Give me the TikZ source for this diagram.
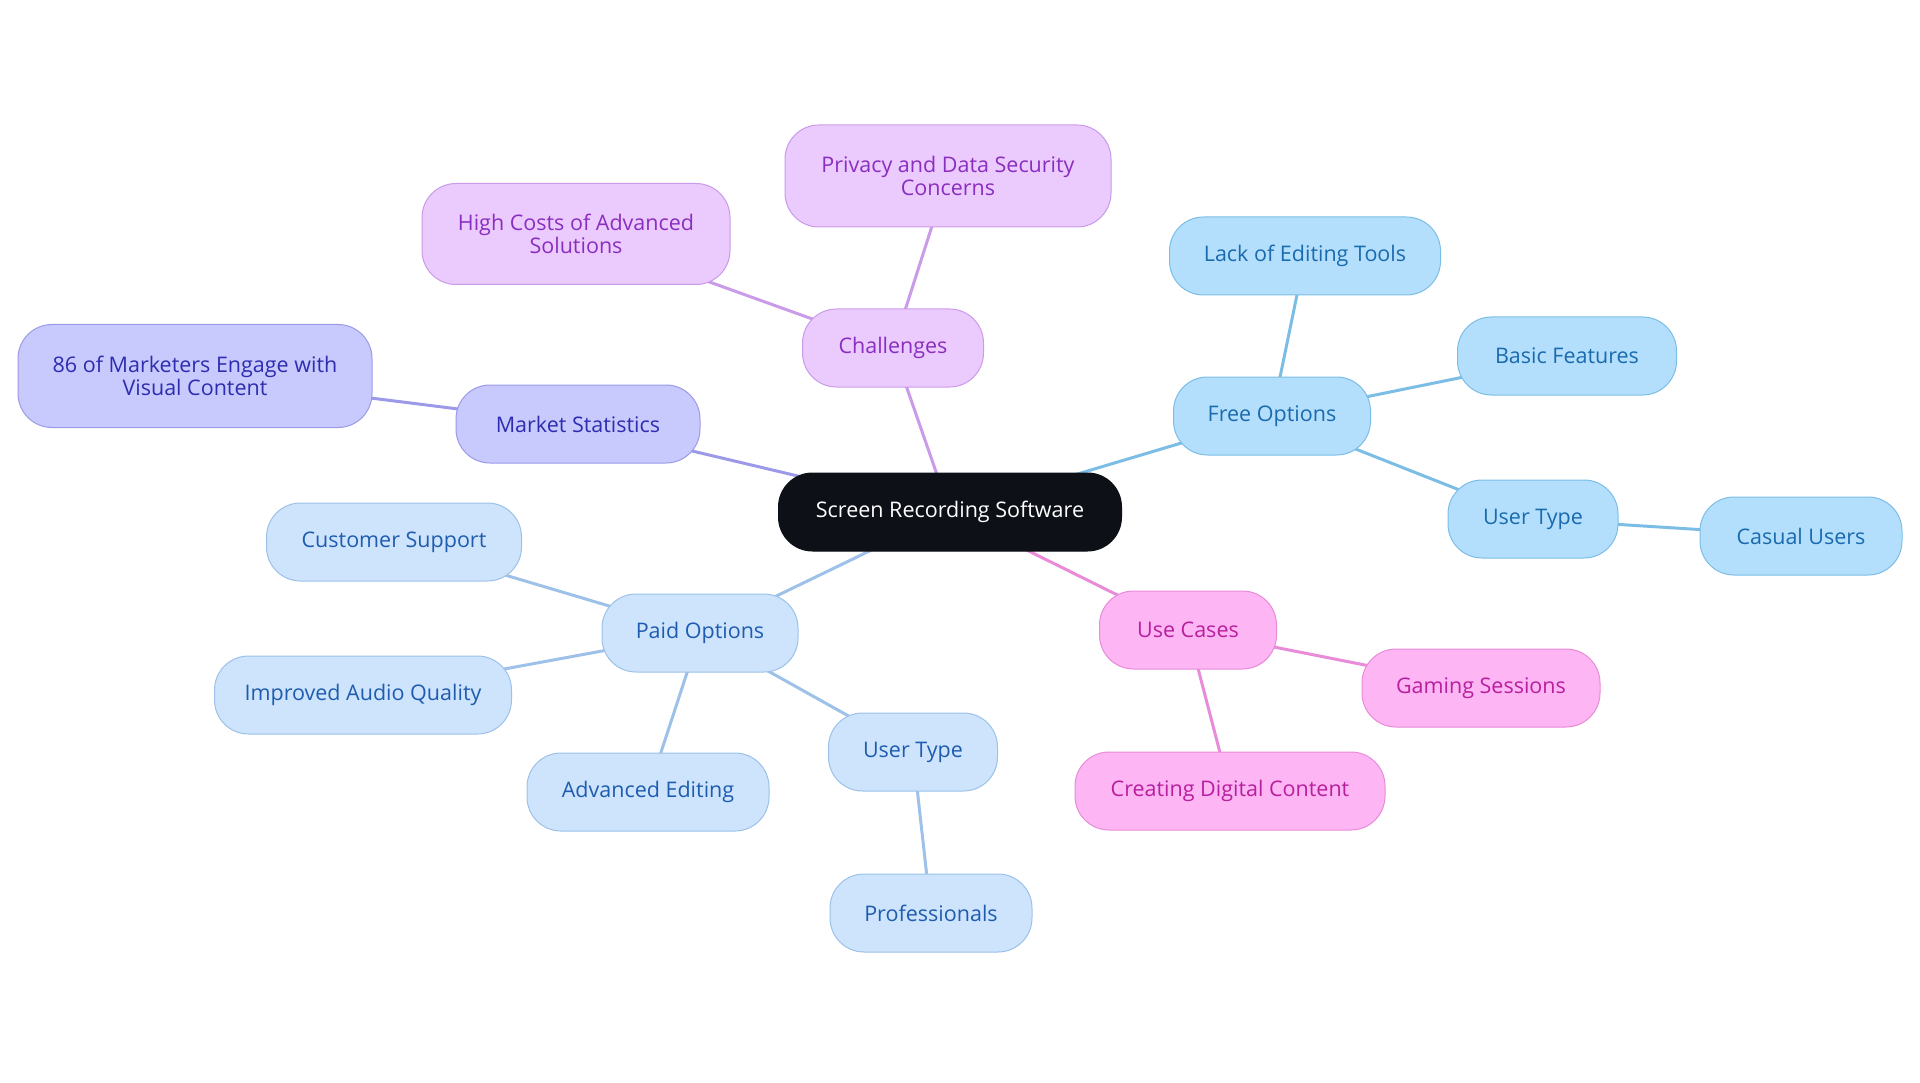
\documentclass[tikz,border=0pt]{standalone}
\usepackage{fontspec}
\setmainfont{Open Sans}
\usetikzlibrary{backgrounds}
\definecolor{rootfill}{HTML}{0D1117}
\definecolor{msfill}{HTML}{C8CAFD}\definecolor{msdraw}{HTML}{9C9AE8}\definecolor{mstext}{HTML}{2E2DB0}
\definecolor{chfill}{HTML}{EBCAFD}\definecolor{chdraw}{HTML}{C99BE8}\definecolor{chtext}{HTML}{8A2EC0}
\definecolor{frfill}{HTML}{B3DFFC}\definecolor{frdraw}{HTML}{7CBDE6}\definecolor{frtext}{HTML}{1A6AAE}
\definecolor{ucfill}{HTML}{FDB5F3}\definecolor{ucdraw}{HTML}{E88BD8}\definecolor{uctext}{HTML}{B81F9E}
\definecolor{pdfill}{HTML}{CDE4FC}\definecolor{pddraw}{HTML}{9DC1E8}\definecolor{pdtext}{HTML}{1F5CB0}
\tikzset{
  base/.style={rounded corners=34pt, inner sep=0pt, align=center, line width=1pt,
     font=\fontsize{21.5}{23}\selectfont, minimum height=78pt},
  rootbox/.style={base, fill=rootfill, draw=rootfill, text=white},
  msbox/.style={base, fill=msfill, draw=msdraw, text=mstext},
  chbox/.style={base, fill=chfill, draw=chdraw, text=chtext},
  frbox/.style={base, fill=frfill, draw=frdraw, text=frtext},
  ucbox/.style={base, fill=ucfill, draw=ucdraw, text=uctext},
  pdbox/.style={base, fill=pdfill, draw=pddraw, text=pdtext},
  msline/.style={draw=msdraw, line width=3pt},
  chline/.style={draw=chdraw, line width=3pt},
  frline/.style={draw=frdraw, line width=3pt},
  ucline/.style={draw=ucdraw, line width=3pt},
  pdline/.style={draw=pddraw, line width=3pt},
}
\begin{document}
\begin{tikzpicture}[x=1pt,y=-1pt]
\useasboundingbox (0,0) rectangle (1920,1083);
\node[rootbox, minimum width=343pt] (root) at (950,512) {Screen Recording Software};
\node[msbox, minimum width=244pt] (ms) at (578,424) {Market Statistics};
\node[msbox, minimum width=354pt, minimum height=103pt] (mk) at (195,376) {86 of Marketers Engage with\\Visual Content};
\node[chbox, minimum width=181pt] (ch) at (893,348) {Challenges};
\node[chbox, minimum width=308pt, minimum height=101pt] (hc) at (576,234) {High Costs of Advanced\\Solutions};
\node[chbox, minimum width=326pt, minimum height=102pt] (pr) at (948,176) {Privacy and Data Security\\Concerns};
\node[frbox, minimum width=197pt] (fr) at (1272,416) {Free Options};
\node[frbox, minimum width=271pt] (le) at (1305,256) {Lack of Editing Tools};
\node[frbox, minimum width=219pt] (bf) at (1567,356) {Basic Features};
\node[frbox, minimum width=170pt] (ut1) at (1533,519) {User Type};
\node[frbox, minimum width=202pt] (cu) at (1801,536) {Casual Users};
\node[ucbox, minimum width=177pt] (uc) at (1188,630) {Use Cases};
\node[ucbox, minimum width=238pt] (gs) at (1481,688) {Gaming Sessions};
\node[ucbox, minimum width=310pt] (cd) at (1230,791) {Creating Digital Content};
\node[pdbox, minimum width=196pt] (pd) at (700,633) {Paid Options};
\node[pdbox, minimum width=255pt] (cs) at (394,542) {Customer Support};
\node[pdbox, minimum width=297pt] (ia) at (363,695) {Improved Audio Quality};
\node[pdbox, minimum width=242pt] (ae) at (648,792) {Advanced Editing};
\node[pdbox, minimum width=169pt] (ut2) at (913,752) {User Type};
\node[pdbox, minimum width=202pt] (pf) at (931,913) {Professionals};
\begin{scope}[on background layer]
\draw[msline] (root.center) -- (ms.center);
\draw[msline] (ms.center) -- (mk.center);
\draw[chline] (root.center) -- (ch.center);
\draw[chline] (ch.center) -- (hc.center);
\draw[chline] (ch.center) -- (pr.center);
\draw[frline] (root.center) -- (fr.center);
\draw[frline] (fr.center) -- (le.center);
\draw[frline] (fr.center) -- (bf.center);
\draw[frline] (fr.center) -- (ut1.center);
\draw[frline] (ut1.center) -- (cu.center);
\draw[ucline] (root.center) -- (uc.center);
\draw[ucline] (uc.center) -- (gs.center);
\draw[ucline] (uc.center) -- (cd.center);
\draw[pdline] (root.center) -- (pd.center);
\draw[pdline] (pd.center) -- (cs.center);
\draw[pdline] (pd.center) -- (ia.center);
\draw[pdline] (pd.center) -- (ae.center);
\draw[pdline] (pd.center) -- (ut2.center);
\draw[pdline] (ut2.center) -- (pf.center);
\end{scope}
\end{tikzpicture}
\end{document}
